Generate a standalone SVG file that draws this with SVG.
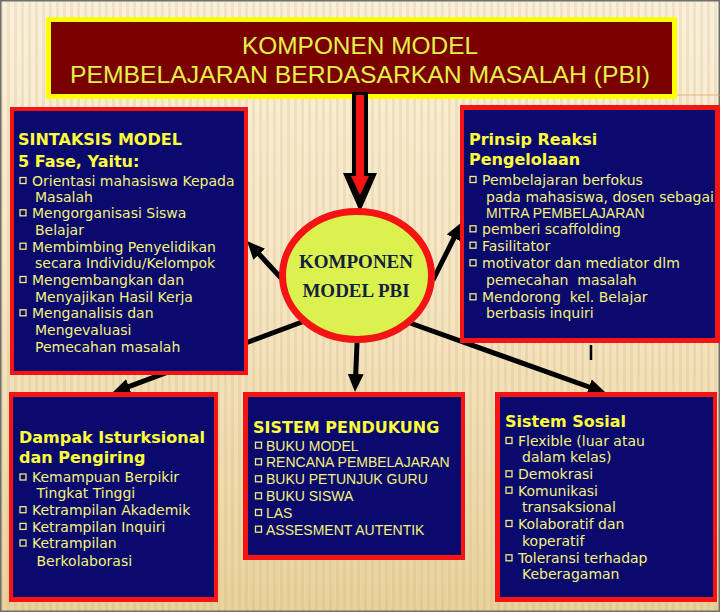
<svg xmlns="http://www.w3.org/2000/svg" width="720" height="612" viewBox="0 0 720 612">
<defs>
<linearGradient id="bg" x1="0" y1="0" x2="0" y2="1">
<stop offset="0" stop-color="#faf0da"/>
<stop offset="0.5" stop-color="#f5e5c2"/>
<stop offset="1" stop-color="#e9d29c"/>
</linearGradient>
<pattern id="stripes" width="7" height="40" patternUnits="userSpaceOnUse">
<rect width="3" height="40" fill="#c8a868" opacity="0.18"/>
</pattern>
<marker id="ah" viewBox="0 0 18 16" markerWidth="18" markerHeight="16" markerUnits="userSpaceOnUse" refX="3" refY="8" orient="auto">
<path d="M0,0 L18,8 L0,16 z" fill="#000"/>
</marker>
<style>
.frame{fill:#f41414}
.panel{fill:#0a0a6e}
.h{font-family:"DejaVu Sans",Verdana,sans-serif;font-weight:bold;font-size:16px;fill:#ffff3a}
.t{font-family:"DejaVu Sans",Verdana,sans-serif;font-size:14px;fill:#f6f27a}
.u{font-family:"Liberation Sans",Arial,sans-serif;font-size:14px;fill:#f6f27a}
.b{fill:#0a0a6e;stroke:#f0ea78;stroke-width:1.3}
.conn{stroke:#000;stroke-width:5;fill:none;marker-end:url(#ah)}
.title{font-family:"Liberation Sans",Arial,sans-serif;font-size:24px;fill:#e4f04c;text-anchor:middle}
.ctext{font-family:"Liberation Serif","Times New Roman",serif;font-weight:bold;font-size:19px;fill:#14213d;text-anchor:middle}
</style>
</defs>

<rect x="0" y="0" width="720" height="612" fill="url(#bg)"/>
<rect x="0" y="0" width="720" height="612" fill="url(#stripes)"/>
<rect x="0.75" y="0.75" width="718.5" height="610.5" fill="none" stroke="#6e6e6e" stroke-width="1.5"/>
<line x1="677" y1="95" x2="720" y2="95" stroke="#d8a060" stroke-width="1" opacity="0.7"/>

<g id="title">
<rect x="46" y="17" width="631" height="82" fill="#ffff00"/>
<rect x="51" y="22" width="621" height="72" fill="#7a0000"/>
<text class="title" x="360" y="54" textLength="236" lengthAdjust="spacingAndGlyphs">KOMPONEN MODEL</text>
<text class="title" x="360" y="83" textLength="580" lengthAdjust="spacingAndGlyphs">PEMBELAJARAN BERDASARKAN MASALAH (PBI)</text>
</g>

<g id="connectors">
<polygon points="352,92 368,92 368,173 377,173 360,212 343,173 352,173" fill="#000"/>
<polygon points="356,95 364,95 364,176 369,176 360,195 351,176 356,176" fill="#f41414"/>
<line class="conn" x1="281" y1="278" x2="257.2" y2="252.1"/>
<line class="conn" x1="433" y1="280" x2="455.3" y2="235.4"/>
<line class="conn" x1="302" y1="322" x2="126.1" y2="387.7"/>
<line class="conn" x1="357" y1="343" x2="355.6" y2="377"/>
<line class="conn" x1="410" y1="323" x2="591.9" y2="388"/>
<line x1="591" y1="345" x2="591" y2="360" stroke="#000" stroke-width="2.5"/>
</g>

<g id="sintaksis">
<rect class="frame" x="10" y="107" width="238" height="268"/>
<rect class="panel" x="14" y="111" width="230" height="260"/>
<text class="h" x="18" y="145">SINTAKSIS MODEL</text>
<text class="h" x="18" y="166.5">5 Fase, Yaitu:</text>
<rect class="b" x="20" y="177.5" width="6" height="6"/>
<text class="t" x="32" y="186">Orientasi mahasiswa Kepada</text>
<text class="t" x="35" y="201.7">Masalah</text>
<rect class="b" x="20" y="209.8" width="6" height="6"/>
<text class="t" x="32" y="218.3">Mengorganisasi Siswa</text>
<text class="t" x="35" y="235">Belajar</text>
<rect class="b" x="20" y="243.2" width="6" height="6"/>
<text class="t" x="32" y="251.7">Membimbing Penyelidikan</text>
<text class="t" x="35" y="268.3">secara Individu/Kelompok</text>
<rect class="b" x="20" y="276.5" width="6" height="6"/>
<text class="t" x="32" y="285">Mengembangkan dan</text>
<text class="t" x="35" y="301.7">Menyajikan Hasil Kerja</text>
<rect class="b" x="20" y="309.8" width="6" height="6"/>
<text class="t" x="32" y="318.3">Menganalisis dan</text>
<text class="t" x="35" y="335">Mengevaluasi</text>
<text class="t" x="35" y="352.3">Pemecahan masalah</text>
</g>

<g id="prinsip">
<rect class="frame" x="460" y="105" width="260" height="238"/>
<rect class="panel" x="464" y="110" width="251" height="228"/>
<text class="h" x="469" y="145">Prinsip Reaksi</text>
<text class="h" x="469" y="165">Pengelolaan</text>
<rect class="b" x="470" y="176.5" width="6" height="6"/>
<text class="t" x="482" y="185">Pembelajaran berfokus</text>
<text class="t" x="486" y="201.7">pada mahasiswa, dosen sebagai</text>
<text class="u" x="486" y="218.3">MITRA PEMBELAJARAN</text>
<rect class="b" x="470" y="225.8" width="6" height="6"/>
<text class="t" x="482" y="234.3">pemberi scaffolding</text>
<rect class="b" x="470" y="242.2" width="6" height="6"/>
<text class="t" x="482" y="250.7">Fasilitator</text>
<rect class="b" x="470" y="259.8" width="6" height="6"/>
<text class="t" x="482" y="268.3">motivator dan mediator dlm</text>
<text class="t" x="486" y="285" xml:space="preserve">pemecahan  masalah</text>
<rect class="b" x="470" y="293.8" width="6" height="6"/>
<text class="t" x="482" y="302.3" xml:space="preserve">Mendorong  kel. Belajar</text>
<text class="t" x="486" y="318.3">berbasis inquiri</text>
</g>

<g id="komponen">
<ellipse cx="357" cy="275.5" rx="74.5" ry="64" fill="#dbf24e" stroke="#f41414" stroke-width="7"/>
<text class="ctext" x="356" y="268.3">KOMPONEN</text>
<text class="ctext" x="356" y="297.3">MODEL PBI</text>
</g>

<g id="dampak">
<rect class="frame" x="9" y="392" width="209" height="210"/>
<rect class="panel" x="13" y="397" width="201" height="200"/>
<text class="h" x="19" y="442.7">Dampak Isturksional</text>
<text class="h" x="19" y="463.3">dan Pengiring</text>
<rect class="b" x="20" y="474" width="6" height="6"/>
<text class="t" x="32" y="482.3">Kemampuan Berpikir</text>
<text class="t" x="36.5" y="498.3">Tingkat Tinggi</text>
<rect class="b" x="20" y="506.7" width="6" height="6"/>
<text class="t" x="32" y="515">Ketrampilan Akademik</text>
<rect class="b" x="20" y="523.4" width="6" height="6"/>
<text class="t" x="32" y="531.7">Ketrampilan Inquiri</text>
<rect class="b" x="20" y="540" width="6" height="6"/>
<text class="t" x="32" y="548.3">Ketrampilan</text>
<text class="t" x="36.5" y="566">Berkolaborasi</text>
</g>

<g id="sistem-pendukung">
<rect class="frame" x="243" y="392" width="222" height="168"/>
<rect class="panel" x="248" y="397" width="213" height="158"/>
<text class="h" x="253" y="433.3">SISTEM PENDUKUNG</text>
<rect class="b" x="255.5" y="442.2" width="6" height="6"/>
<text class="u" x="266" y="450.7">BUKU MODEL</text>
<rect class="b" x="255.5" y="458.8" width="6" height="6"/>
<text class="u" x="266" y="467.3">RENCANA PEMBELAJARAN</text>
<rect class="b" x="255.5" y="475.8" width="6" height="6"/>
<text class="u" x="266" y="484.3">BUKU PETUNJUK GURU</text>
<rect class="b" x="255.5" y="492.8" width="6" height="6"/>
<text class="u" x="266" y="501.3">BUKU SISWA</text>
<rect class="b" x="255.5" y="509.5" width="6" height="6"/>
<text class="u" x="266" y="518">LAS</text>
<rect class="b" x="255.5" y="526.2" width="6" height="6"/>
<text class="u" x="266" y="534.7">ASSESMENT AUTENTIK</text>
</g>

<g id="sistem-sosial">
<rect class="frame" x="495" y="392" width="222" height="210"/>
<rect class="panel" x="500" y="397" width="213" height="200"/>
<text class="h" x="505" y="427.3">Sistem Sosial</text>
<rect class="b" x="506" y="437.5" width="6" height="6"/>
<text class="t" x="518" y="446">Flexible (luar atau</text>
<text class="t" x="522" y="462.3">dalam kelas)</text>
<rect class="b" x="506" y="470.8" width="6" height="6"/>
<text class="t" x="518" y="479.3">Demokrasi</text>
<rect class="b" x="506" y="487.2" width="6" height="6"/>
<text class="t" x="518" y="495.7">Komunikasi</text>
<text class="t" x="522" y="512.3">transaksional</text>
<rect class="b" x="506" y="520.5" width="6" height="6"/>
<text class="t" x="518" y="529">Kolaboratif dan</text>
<text class="t" x="522" y="546">koperatif</text>
<rect class="b" x="506" y="554.8" width="6" height="6"/>
<text class="t" x="518" y="563.3">Toleransi terhadap</text>
<text class="t" x="522" y="579.3">Keberagaman</text>
</g>
</svg>
